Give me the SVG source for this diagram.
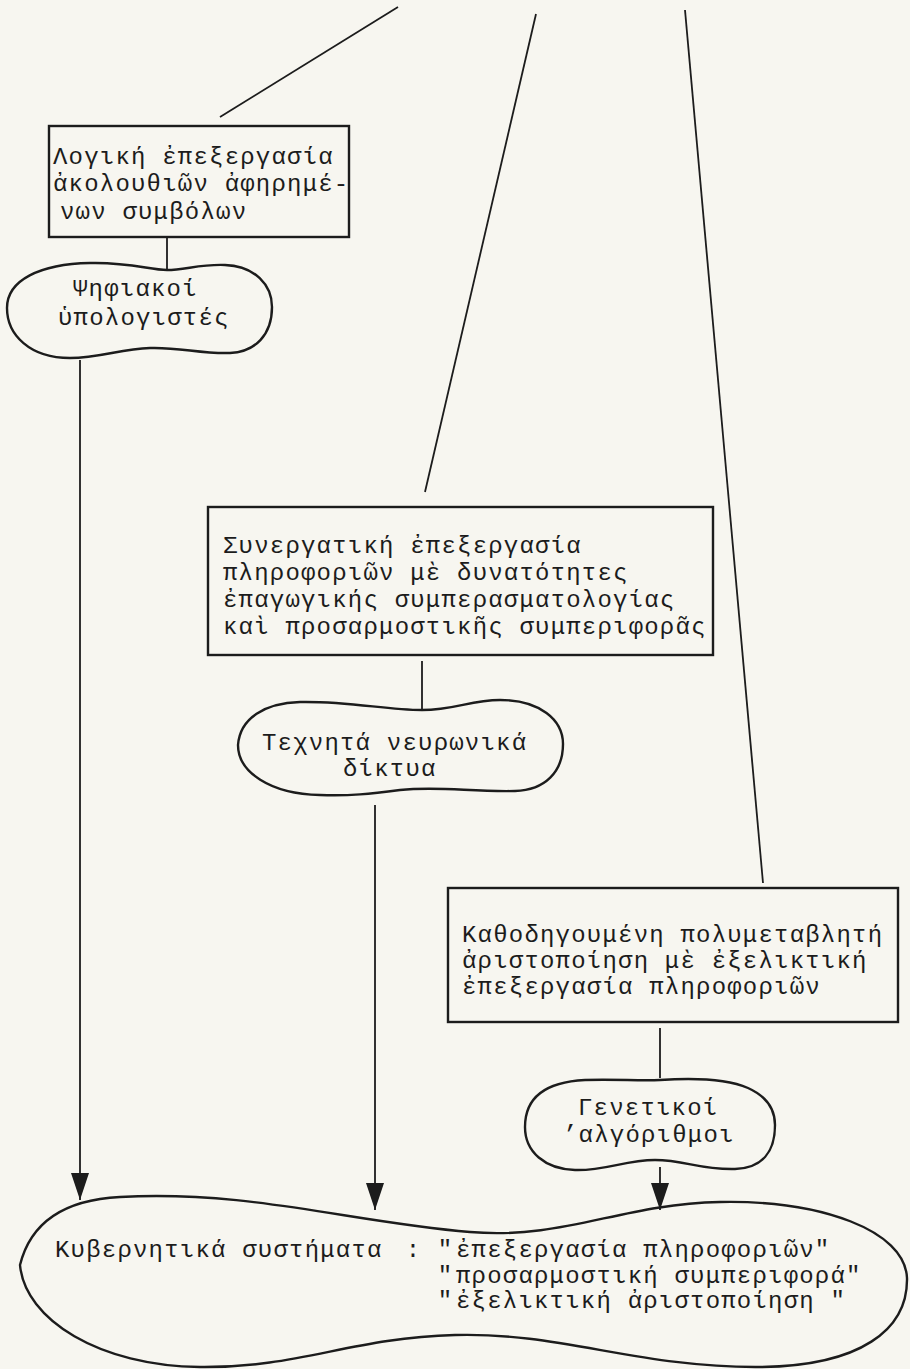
<svg xmlns="http://www.w3.org/2000/svg" width="910" height="1369" viewBox="0 0 910 1369">
<style>
.t{font-family:"Liberation Mono","DejaVu Sans Mono",monospace;font-size:24px;letter-spacing:1.2px;fill:#1c1c1c}
.c{text-anchor:middle;letter-spacing:0}
.box{fill:none;stroke:#1c1c1c;stroke-width:2.4}
.blob{fill:none;stroke:#1c1c1c;stroke-width:2.4;stroke-linejoin:round}
.ln{fill:none;stroke:#1c1c1c;stroke-width:1.8}
</style>
<defs>
<marker id="ah" markerUnits="userSpaceOnUse" viewBox="0 0 27 18" refX="27" refY="9" markerWidth="27" markerHeight="18" orient="auto">
<path d="M0,0 L27,9 L0,18 Z" fill="#1c1c1c"/>
</marker>
</defs>
<rect x="0" y="0" width="910" height="1369" fill="#f7f6f0"/>

<g id="connectors">
<line class="ln" x1="398" y1="7" x2="220" y2="117"/>
<line class="ln" x1="536" y1="14" x2="425" y2="492"/>
<line class="ln" x1="685" y1="10" x2="763" y2="883"/>
<line class="ln" x1="167" y1="237" x2="167" y2="269"/>
<line class="ln" x1="80" y1="360" x2="80" y2="1200" marker-end="url(#ah)"/>
<line class="ln" x1="422" y1="661" x2="422" y2="710"/>
<line class="ln" x1="375" y1="805" x2="375" y2="1210" marker-end="url(#ah)"/>
<line class="ln" x1="660" y1="1028" x2="660" y2="1078"/>
<line class="ln" x1="660" y1="1167" x2="660" y2="1210" marker-end="url(#ah)"/>
</g>

<g id="box-logiki">
<rect class="box" x="49" y="126" width="300" height="111"/>
<text class="t" x="53" y="164">Λογική ἐπεξεργασία</text>
<text class="t" x="53" y="191">ἀκολουθιῶν ἀφηρημέ-</text>
<text class="t" x="60" y="219">νων συμβόλων</text>
</g>

<g id="blob-psifiakoi">
<path class="blob" d="M7,308 C7,280 40,264 90,263 C130,262 150,270 167,270 C185,270 200,264 225,265 C255,266 272,285 272,307 C272,335 255,352 230,353 C200,354 180,347 150,348 C120,349 100,358 70,358 C30,358 7,335 7,308 Z"/>
<text class="t" x="73" y="296">Ψηφιακοί</text>
<text class="t" x="58" y="325">ὑπολογιστές</text>
</g>

<g id="box-synergatiki">
<rect class="box" x="208" y="507" width="505" height="148"/>
<text class="t" x="223" y="553">Συνεργατική ἐπεξεργασία</text>
<text class="t" x="223" y="580">πληροφοριῶν μὲ δυνατότητες</text>
<text class="t" x="223" y="607">ἐπαγωγικής συμπερασματολογίας</text>
<text class="t" x="223" y="634">καὶ προσαρμοστικῆς συμπεριφορᾶς</text>
</g>

<g id="blob-neurwnika">
<path class="blob" d="M238,745 C240,718 265,703 300,702 C350,701 385,710 422,710 C455,710 470,700 500,700 C540,700 563,720 563,744 C563,772 545,790 515,791 C470,792 440,786 400,790 C370,794 350,796 320,795 C270,794 238,772 238,745 Z"/>
<text class="t" x="262" y="750">Τεχνητά νευρωνικά</text>
<text class="t" x="343" y="776">δίκτυα</text>
</g>

<g id="box-kathodigoumeni">
<rect class="box" x="448" y="888" width="450" height="134"/>
<text class="t" x="462" y="942">Καθοδηγουμένη πολυμεταβλητή</text>
<text class="t" x="462" y="968">ἀριστοποίηση μὲ ἐξελικτική</text>
<text class="t" x="462" y="994">ἐπεξεργασία πληροφοριῶν</text>
</g>

<g id="blob-genetikoi">
<path class="blob" d="M525,1127 C525,1098 545,1082 585,1080 C615,1079 640,1081 660,1080 C690,1078 725,1078 748,1088 C770,1098 775,1112 775,1125 C775,1152 762,1168 735,1169 C700,1170 685,1160 655,1160 C625,1160 605,1171 575,1170 C545,1169 525,1152 525,1127 Z"/>
<text class="t" x="578" y="1115">Γενετικοί</text>
<text class="t" x="563" y="1142">’αλγόριθμοι</text>
</g>

<g id="blob-kyvernitika">
<path class="blob" d="M20,1265 C30,1225 60,1200 120,1197 C250,1190 350,1222 470,1232 C565,1240 620,1204 720,1202 C820,1200 905,1230 907,1278 C908,1330 860,1366 760,1367 C640,1368 560,1332 455,1335 C350,1338 300,1368 200,1367 C100,1366 25,1320 20,1265 Z"/>
<text class="t" x="55" y="1257">Κυβερνητικά συστήματα</text>
<text class="t c" x="413" y="1257">:</text>
<text class="t c" x="445" y="1257">"</text>
<text class="t c" x="445" y="1283">"</text>
<text class="t c" x="445" y="1308">"</text>
<text class="t" x="456" y="1257">ἐπεξεργασία πληροφοριῶν"</text>
<text class="t" x="456" y="1283">προσαρμοστική συμπεριφορά"</text>
<text class="t" x="456" y="1308" xml:space="preserve">ἐξελικτική ἀριστοποίηση "</text>
</g>
</svg>
